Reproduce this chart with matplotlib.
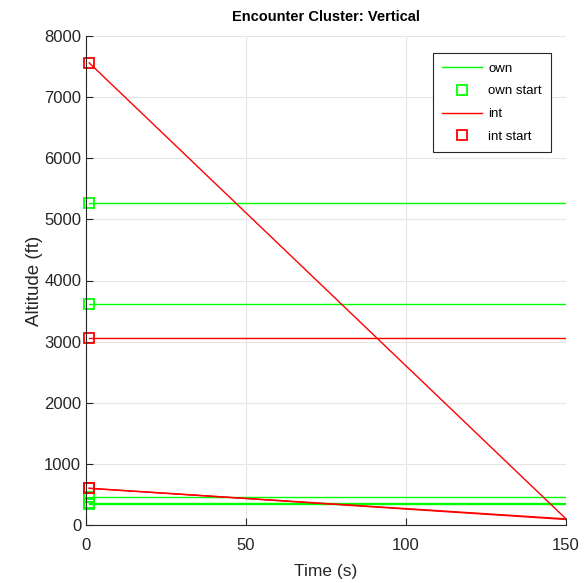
import numpy as np
import matplotlib.pyplot as plt

plt.rcParams['font.family'] = ['Liberation Sans', 'DejaVu Sans']

# Time span of the encounters (s)
t_start, t_end = 1, 150

# Ownship altitudes (ft): start, end
own_start = [5260, 3610, 450, 345, 355]
own_end = [5260, 3610, 450, 345, 355]

# Intruder altitudes (ft): start, end
int_start = [7560, 3060, 600, 600]
int_end = [100, 3060, 100, 90]

fig = plt.figure(figsize=(5.87, 5.83), dpi=100)
ax = fig.add_axes([86 / 587, 1 - 525 / 583, 480 / 587, 489 / 583])

green = '#00ff00'
red = '#ff0000'

for i, (a, b) in enumerate(zip(own_start, own_end)):
    ax.plot([t_start, t_end], [a, b], color=green, lw=1, label='own' if i == 0 else None)
    ax.plot(t_start, a, 's', mfc='none', mec=green, ms=7, mew=1.3,
            label='own start' if i == 0 else None, clip_on=False)
for i, (a, b) in enumerate(zip(int_start, int_end)):
    ax.plot([t_start, t_end], [a, b], color=red, lw=1, label='int' if i == 0 else None)
    ax.plot(t_start, a, 's', mfc='none', mec=red, ms=7, mew=1.3,
            label='int start' if i == 0 else None, clip_on=False)

ax.set_xlim(0, 150)
ax.set_ylim(0, 8000)
ax.set_xticks([0, 50, 100, 150])
ax.set_yticks(np.arange(0, 8001, 1000))
ax.grid(True, color='#e6e6e6', lw=0.8)
ax.set_axisbelow(True)
for s in ['top', 'right']:
    ax.spines[s].set_visible(False)
for s in ['left', 'bottom']:
    ax.spines[s].set_color('#262626')
ax.tick_params(direction='in', labelsize=12, colors='#262626', length=5)
ax.tick_params(axis='x', pad=9)

ax.set_xlabel('Time (s)', fontsize=12.5, color='#262626')
ax.set_ylabel('Altitude (ft)', fontsize=13.5, color='#262626')
ax.xaxis.set_label_coords(0.5, -0.08)
ax.yaxis.set_label_coords(-0.09, 0.5)
ax.set_title('Encounter Cluster: Vertical', fontsize=10.5, fontweight='bold', pad=11)

leg = ax.legend(loc='upper right', bbox_to_anchor=(0.969, 0.965), fontsize=9.5,
                fancybox=False, edgecolor='#262626', framealpha=1,
                handlelength=3.0, handletextpad=0.5, borderpad=0.7,
                labelspacing=0.8, borderaxespad=0)
leg.get_frame().set_linewidth(0.8)

fig.savefig('out.png', dpi=100)
